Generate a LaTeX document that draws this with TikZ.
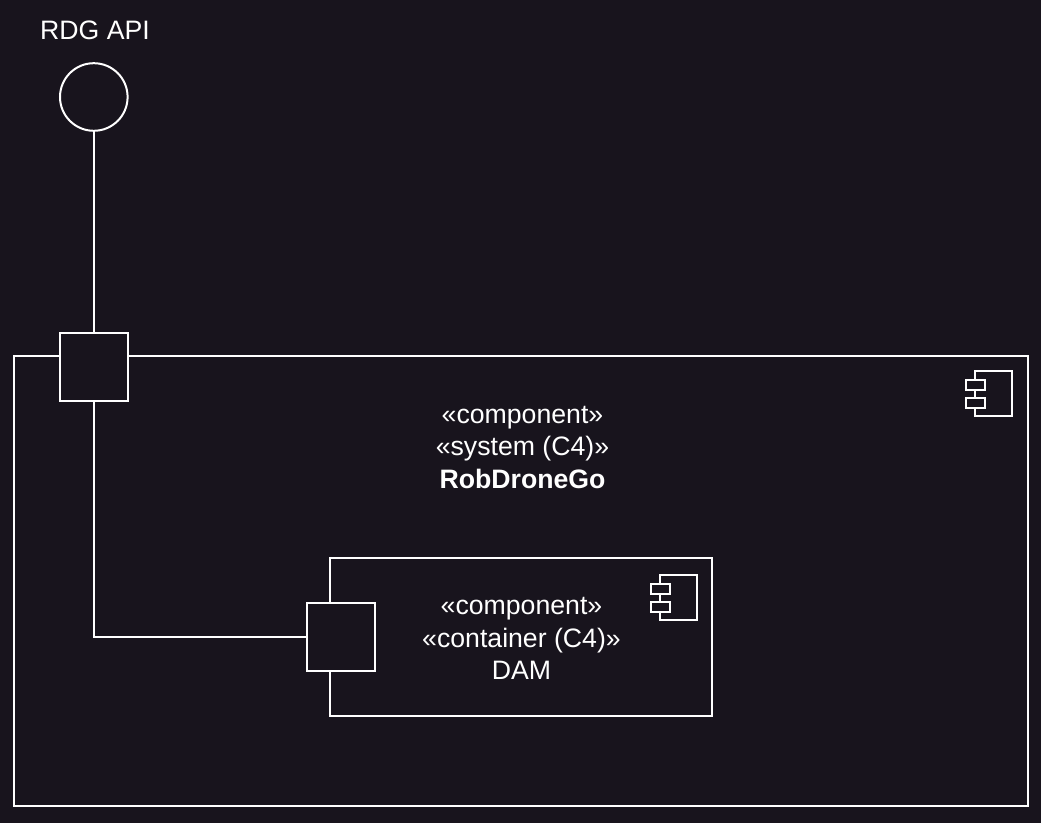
\documentclass[tikz,border=0pt]{standalone}
\usepackage{fontspec}
\setmainfont{Liberation Sans}
\definecolor{bgc}{HTML}{18141D}
\tikzset{
  x=0.75pt,y=-0.75pt,
  ln/.style={draw=white,line width=1.5pt},
  box/.style={ln,fill=bgc,rectangle,inner sep=0pt,outer sep=0pt},
  port/.style={box,minimum width=51pt,minimum height=51pt},
  txt/.style={text=white,font=\fontsize{20pt}{24.4pt}\selectfont,align=center,inner sep=0pt},
  lab/.style={text=white,font=\fontsize{20pt}{24pt}\selectfont,inner sep=0pt},
}
\newcommand{\compicon}[2]{%
  \path[ln,fill=bgc] (#1+9.5,#2) rectangle (#1+46,#2+45);
  \path[ln,fill=bgc] (#1,#2+9) rectangle (#1+19.5,#2+19);
  \path[ln,fill=bgc] (#1,#2+27) rectangle (#1+19.5,#2+37);
}
\begin{document}
\begin{tikzpicture}
\fill[bgc] (0,0) rectangle (1041,823);
\useasboundingbox (0,0) rectangle (1041,823);
\node[box,minimum width=759.9pt,minimum height=337.5pt] (sys) at (521,581) {};
\node[box,minimum width=286.2pt,minimum height=118.5pt] (cont) at (521,637) {};
\node[port,minimum width=50.7pt] (p1) at (93.8,367) {};
\node[port,minimum width=50.7pt] (p2) at (340.8,637) {};
\node[ln,circle,minimum size=50.7pt,inner sep=0pt,outer sep=0pt] (api) at (93.8,97) {};
\coordinate (bend) at (93.8,637);
\draw[ln] (api) -- (p1);
\draw[ln] (p1) -- (bend) -- (p2);
\compicon{965.7}{371.3}
\compicon{650.7}{574.5}
\node[lab] (t0) at (95,30.5) {RDG API};
\node[txt] (t1) at (522.5,447.5) {«component»\\«system (C4)»\\\textbf{RobDroneGo}};
\node[txt] (t2) at (521.5,638.5) {«component»\\«container (C4)»\\DAM};
\end{tikzpicture}
\end{document}
